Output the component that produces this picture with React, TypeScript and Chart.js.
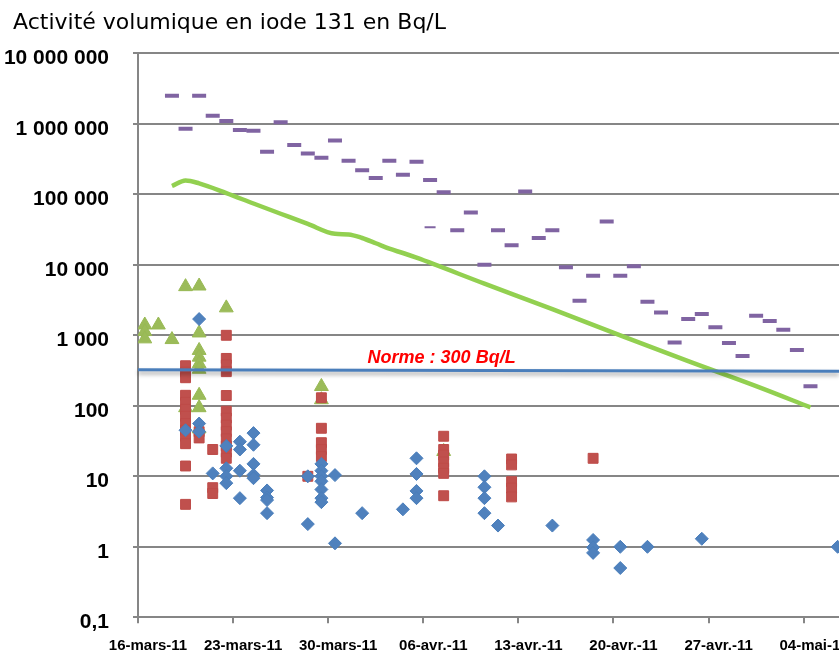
import React, { useEffect, useRef } from "react";
import { Chart, registerables } from "chart.js";

Chart.register(...registerables);

// ---- Text / ticks ----
const titleText = "Activité volumique en iode 131 en Bq/L";
const normLabel = "Norme : 300 Bq/L";
const xTickLabels = ["16-mars-11", "23-mars-11", "30-mars-11", "06-avr.-11", "13-avr.-11", "20-avr.-11", "27-avr.-11", "04-mai-11"];
const yTickValues = [0.1, 1, 10, 100, 1000, 10000, 100000, 1000000, 10000000];
const yTickLabels = ["0,1", "1", "10", "100", "1 000", "10 000", "100 000", "1 000 000", "10 000 000"];

// day index: 0 = 16-mars-11
const xMin = -0.5;
const xMax = 51.1;

// ---- Purple dashes ----
const purpleDays = [2, 3, 4, 5, 6, 7, 8, 9, 10, 11, 12, 13, 14, 15, 16, 17, 18, 19, 20, 21, 22, 23, 24, 25, 26, 27, 28, 29, 30, 31, 32, 33, 34, 35, 36, 37, 38, 39, 40, 41, 42, 43, 44, 45, 46, 47, 48, 49];
const purpleValues = [2500000, 850000, 2500000, 1300000, 1100000, 820000, 800000, 400000, 1050000, 500000, 380000, 330000, 580000, 300000, 220000, 170000, 300000, 190000, 290000, 160000, 107000, 31000, 55000, 10000, 31000, 19000, 110000, 24000, 31000, 9200, 3100, 7000, 41000, 7000, 9500, 3000, 2100, 790, 1700, 2000, 1300, 780, 510, 1900, 1600, 1200, 620, 190];
const purpleThinDays = [21];
const purpleThinValues = [34000];

// ---- Green model curve ----
const curveDays = [2, 3, 4, 6, 8, 10, 12, 14, 15, 16, 17, 18, 19, 20, 25, 30, 35, 40, 45, 49];
const curveValues = [131000, 157000, 143000, 104000, 74000, 53000, 38000, 27500, 27000, 24000, 20200, 16900, 14700, 12600, 5400, 2350, 1000, 430, 190, 95];

// ---- Norm line ----
const normDays = [xMin, xMax];
const normValues = [325, 310];

// ---- Blue diamonds ----
const diamondDays = [3, 4, 4, 4, 5, 6, 6, 6, 6, 7, 7, 7, 7, 8, 8, 8, 8, 8, 9, 9, 9, 9, 12, 12, 13, 13, 13, 13, 13, 13, 13, 14, 14, 16, 19, 20, 20, 20, 20, 25, 25, 25, 25, 26, 30, 33, 33, 33, 35, 35, 37, 41, 51];
const diamondValues = [45, 1700, 56, 43, 11, 27, 13, 10, 8, 31, 24, 12, 4.9, 41, 28, 15, 10.5, 9.4, 6.3, 5, 4.6, 3, 10, 2.1, 15, 12, 10, 8.5, 6.5, 4.9, 4.3, 10.4, 1.12, 3.0, 3.4, 18, 10.8, 6.2, 4.9, 10, 7, 4.9, 3, 2.0, 2.0, 1.25, 0.98, 0.82, 1.0, 0.5, 1.0, 1.3, 1.0];

// ---- Red squares ----
const squareDays = [3, 3, 3, 3, 3, 3, 3, 3, 3, 3, 3, 3, 3, 4, 4, 5, 5, 5, 6, 6, 6, 6, 6, 6, 6, 6, 6, 6, 6, 6, 6, 12, 13, 13, 13, 13, 13, 22, 22, 22, 22, 22, 22, 22, 27, 27, 27, 27, 27, 33];
const squareValues = [370, 300, 250, 141, 112, 89, 71, 56, 45, 37, 29, 14, 4, 43, 35, 24, 6.9, 5.7, 1000, 470, 380, 305, 140, 84, 67, 53, 43, 34, 27, 22, 18, 10, 130, 48, 30, 24, 19, 37, 24, 20, 16, 13, 11, 5.3, 17.6, 14.5, 8.4, 6.8, 5.1, 18];

// ---- Green triangles ----
const triangleDays = [0, 0, 0, 1, 2, 3, 3, 4, 4, 4, 4, 4, 4, 4, 4, 4, 6, 13, 13, 22];
const triangleValues = [1400, 1130, 890, 1400, 870, 4900, 94, 5000, 1080, 610, 490, 395, 330, 141, 94, 47, 2450, 188, 122, 22.5];

const pts = (xs: number[], ys: number[]) => xs.map((x, i) => ({ x, y: ys[i] }));

const shadowPlugin = {
  id: "normShadow",
  beforeDatasetDraw(chart: any, args: any) {
    if (args.index === 0) {
      const ctx = chart.ctx;
      ctx.save();
      ctx.shadowColor = "rgba(0,0,0,0.35)";
      ctx.shadowBlur = 4;
      ctx.shadowOffsetY = 3;
    }
  },
  afterDatasetDraw(chart: any, args: any) {
    if (args.index === 0) chart.ctx.restore();
  },
};

const textPlugin = {
  id: "texts",
  afterDraw(chart: any) {
    const ctx = chart.ctx;
    const xs = chart.scales.x;
    const ys = chart.scales.y;
    ctx.save();
    ctx.textAlign = "left";
    ctx.textBaseline = "alphabetic";
    ctx.fillStyle = "#000000";
    ctx.font = '22px "DejaVu Sans"';
    ctx.fillText(titleText, 13, 29);
    ctx.fillStyle = "#FF0000";
    ctx.font = 'italic bold 18px "Liberation Sans"';
    ctx.fillText(normLabel, xs.getPixelForValue(16.4), ys.getPixelForValue(300) - 9);
    ctx.restore();
  },
};

export default function App() {
  const ref = useRef<HTMLCanvasElement | null>(null);

  useEffect(() => {
    if (!ref.current) return;
    const chart = new Chart(ref.current, {
      type: "scatter",
      data: {
        datasets: [
          {
            label: "Norme",
            data: pts(normDays, normValues),
            showLine: true,
            borderColor: "#4A7EBB",
            borderWidth: 3,
            pointRadius: 0,
            clip: false,
          } as any,
          {
            label: "diamonds",
            data: pts(diamondDays, diamondValues),
            pointStyle: "rectRot",
            pointRadius: 6.5,
            backgroundColor: "#4F81BD",
            borderColor: "#4A7EBB",
            borderWidth: 1,
          },
          {
            label: "squares",
            data: pts(squareDays, squareValues),
            pointStyle: "rect",
            pointRadius: 7,
            backgroundColor: "#C0504D",
            borderColor: "#BE4B48",
            borderWidth: 1,
          },
          {
            label: "triangles",
            data: pts(triangleDays, triangleValues),
            pointStyle: "triangle",
            pointRadius: 8,
            backgroundColor: "#9BBB59",
            borderColor: "#98B954",
            borderWidth: 1,
          },
          {
            label: "curve",
            data: pts(curveDays, curveValues),
            showLine: true,
            borderColor: "#92D050",
            borderWidth: 4.5,
            pointRadius: 0,
            cubicInterpolationMode: "monotone",
          } as any,
          {
            label: "purple",
            data: pts(purpleDays, purpleValues),
            pointStyle: "line",
            pointRadius: 7,
            borderColor: "#8064A2",
            backgroundColor: "#8064A2",
            borderWidth: 4,
          },
          {
            label: "purpleThin",
            data: pts(purpleThinDays, purpleThinValues),
            pointStyle: "line",
            pointRadius: 5.5,
            borderColor: "#8064A2",
            backgroundColor: "#8064A2",
            borderWidth: 2,
          },
        ],
      },
      options: {
        responsive: false,
        animation: false,
        devicePixelRatio: 1,
        layout: { autoPadding: false, padding: { top: 53.3, left: 0, right: 0, bottom: 0 } },
        plugins: {
          legend: { display: false },
          tooltip: { enabled: false },
          title: { display: false },
        },
        scales: {
          x: {
            type: "linear",
            min: xMin,
            max: xMax,
            afterBuildTicks: (s: any) => {
              s.ticks = xTickLabels.map((_, i) => ({ value: xMin + 7 * i }));
            },
            afterFit: (s: any) => {
              s.height = 36.7;
              s.paddingLeft = 0;
              s.paddingRight = 0;
            },
            grid: { drawOnChartArea: false, drawTicks: true, tickLength: 6, color: "#868686", lineWidth: 2 },
            border: { display: true, color: "#868686", width: 2 },
            ticks: {
              callback: (_v: any, i: number) => xTickLabels[i],
              labelOffset: 10,
              padding: 14,
              maxRotation: 0,
              minRotation: 0,
              autoSkip: false,
              color: "#000000",
              font: { family: '"Liberation Sans"', weight: "bold", size: 15 },
            },
          },
          y: {
            type: "logarithmic",
            min: 0.1,
            max: 10000000,
            afterBuildTicks: (s: any) => {
              s.ticks = yTickValues.map((v) => ({ value: v }));
            },
            afterFit: (s: any) => {
              s.width = 138;
              s.paddingTop = 0;
              s.paddingBottom = 0;
            },
            grid: { color: "#868686", lineWidth: 2, tickLength: 5, drawTicks: true },
            border: { display: true, color: "#868686", width: 2 },
            ticks: {
              callback: (_v: any, i: number) => yTickLabels[i],
              padding: 24,
              labelOffset: 5,
              autoSkip: false,
              color: "#000000",
              font: { family: '"Liberation Sans"', weight: "bold", size: 21 },
            },
          },
        },
      } as any,
      plugins: [shadowPlugin, textPlugin],
    });
    return () => chart.destroy();
  }, []);

  return (
    <div style={{ position: "fixed", left: 0, top: 0, width: 839, height: 654, background: "#ffffff" }}>
      <canvas ref={ref} width={839} height={654} style={{ display: "block" }} />
    </div>
  );
}
